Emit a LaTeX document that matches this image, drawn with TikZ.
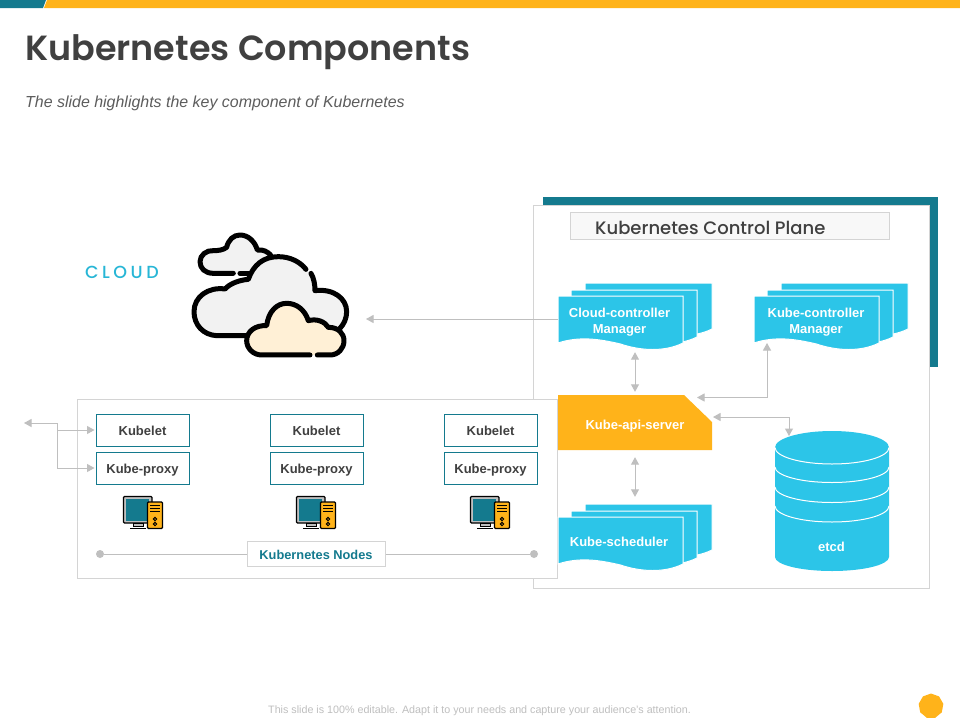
\documentclass[tikz,border=0pt]{standalone}
\usepackage{fontspec}
\setmainfont{Liberation Sans}
\newfontfamily\gothicsb{Poppins SemiBold}
\newfontfamily\gothicm{Poppins Medium}
\usetikzlibrary{arrows.meta,shapes.geometric}
\definecolor{teal1}{HTML}{147A8E}
\definecolor{orange1}{HTML}{FFB31A}
\definecolor{sky1}{HTML}{2CC5E8}
\definecolor{line1}{HTML}{BFBFBF}
\definecolor{frame1}{HTML}{D4D4D4}
\definecolor{ink1}{HTML}{404040}
\definecolor{cloudg}{HTML}{F2F2F2}
\definecolor{cloudy}{HTML}{FFF0D6}
\tikzset{
  x=1pt,y=-1pt,
  conn/.style={draw=line1,line width=1pt},
  biarrow/.style={conn,{Triangle[length=7.5pt,width=8pt]}-{Triangle[length=7.5pt,width=8pt]}},
  onearrow/.style={conn,-{Triangle[length=7.5pt,width=8pt]}},
  compbox/.style={draw=teal1,fill=white,line width=1pt,minimum width=93pt,minimum height=32pt,inner sep=0pt,text=ink1,text height=10pt,text depth=0pt,font=\fontsize{13}{15}\selectfont\bfseries},
  whitelabel/.style={text=white,align=center,inner sep=0pt,font=\fontsize{13}{16}\selectfont\bfseries},
  anchorbox/.style={inner sep=0pt,minimum width=#1},
  docsheet/.style={fill=sky1,draw=white,line width=1pt},
  cloudline/.style={draw=black,line width=5pt,line cap=round,line join=round},
}
% one sheet with a wavy lower edge: #1 left, #2 top, #3 width, #4 height to the edge corners
\newcommand{\docsheet}[4]{%
  \path[docsheet] (#1,#2) -- (#1+#3,#2) -- (#1+#3,#2+#4)
    .. controls (#1+#3-18,#2+#4+9) and (#1+#3-42,#2+#4+8) .. (#1+#3*0.5,#2+#4+1)
    .. controls (#1+#3*0.33,#2+#4-4) and (#1+#3*0.17,#2+#4-7) .. (#1,#2+#4) -- cycle;}
\newcommand{\docstack}[2]{%
  \docsheet{#1+27}{#2}{127}{46}
  \docsheet{#1+13}{#2+7}{126}{47}
  \docsheet{#1}{#2+13}{125}{47}}
\newcommand{\computer}[1]{%
  \begin{scope}[shift={(#1,0)}]
    \draw[black,line width=1.3pt,fill=line1,rounded corners=1pt] (123.5,496.5) rectangle (152,523);
    \fill[teal1] (126,499) rectangle (149,520.5);
    \draw[black,line width=1pt,fill=line1] (133,523) rectangle (143,526);
    \draw[black,line width=1.2pt] (130,528.5) -- (146,528.5);
    \draw[black,line width=1.2pt,fill=orange1,rounded corners=1pt] (147.5,502) rectangle (162.5,528.5);
    \draw[black,line width=.9pt] (150,505.5) -- (160,505.5) (150,508.5) -- (160,508.5);
    \draw[black,line width=1.6pt] (150,511.5) -- (160,511.5);
    \draw[black,line width=1pt] (155,519) circle (1.7) (155,524) circle (1.7);
  \end{scope}}
\begin{document}
\begin{tikzpicture}
\useasboundingbox (0,0) rectangle (960,720);
\fill[white] (0,0) rectangle (960,720);
% top band
\fill[orange1] (47,0) -- (960,0) -- (960,8) -- (44,8) -- cycle;
\fill[teal1] (0,0) -- (46,0) -- (43,8) -- (0,8) -- cycle;
% headings
\node[anchor=base west,inner sep=0pt,text=ink1] (title) at (25,60) {\fontsize{34.95}{38}\gothicsb Kubernetes Components};
\node[anchor=base west,inner sep=0pt,text=ink1!85] (subtitle) at (25,107) {\fontsize{15.95}{18}\selectfont\itshape The slide highlights the key component of Kubernetes};
\node[anchor=base west,inner sep=0pt,text=line1] (footer) at (268,713) {\fontsize{10.72}{12}\selectfont This slide is 100\% editable.  Adapt it to your needs and capture your audience's attention.};
\node[regular polygon,regular polygon sides=9,fill=orange1,minimum size=25pt,inner sep=0pt] (badge) at (931,706) {};
% control plane frame
\fill[teal1] (543,197) rectangle (938,367);
\draw[frame1,fill=white,line width=1pt] (533.5,205.5) rectangle (929.5,588);
\node[draw=frame1,fill=cloudg!50,line width=1pt,minimum width=319pt,minimum height=27pt,inner sep=0pt] (cpbox) at (729.5,225.5) {};
\node[anchor=base west,inner sep=0pt,text=ink1] (cptitle) at (595,234.5) {\fontsize{18}{20}\gothicm Kubernetes Control Plane};
% nodes panel
\draw[frame1,fill=white,line width=1pt] (77,399) rectangle (557.5,578);
% control plane components
\docstack{558}{283}
\docstack{754}{283}
\docstack{558}{504}
\fill[orange1] (558,395) -- (684,395) -- (712,422) -- (712,450) -- (558,450) -- cycle;
% etcd
\fill[sky1] (775,447.5) arc[start angle=180,end angle=360,x radius=57,y radius=16.5] -- (889,557)
  arc[start angle=0,end angle=180,x radius=57,y radius=14] -- cycle;
\draw[white,line width=1pt] (775,447.5) arc[start angle=180,end angle=0,x radius=57,y radius=16.5]
  (775,467) arc[start angle=180,end angle=0,x radius=57,y radius=15.5]
  (775,487) arc[start angle=180,end angle=0,x radius=57,y radius=15.5]
  (775,506) arc[start angle=180,end angle=0,x radius=57,y radius=16];
% named frames of the components and their labels
\node[anchorbox=154pt,minimum height=67pt] (ccm) at (635,316.5) {};
\node[anchorbox=154pt,minimum height=67pt] (kcm) at (831,316.5) {};
\node[anchorbox=154pt,minimum height=67pt] (sched) at (635,537.5) {};
\node[anchorbox=154pt,minimum height=55pt] (api) at (635,422.5) {};
\node[anchorbox=114pt,minimum height=140pt] (etcd) at (832,501) {};
\node[whitelabel] (ccmt) at (619.5,322.5) {Cloud-controller\\Manager};
\node[whitelabel] (kcmt) at (816,322.5) {Kube-controller\\Manager};
\node[whitelabel] (schedt) at (619,542) {Kube-scheduler};
\node[whitelabel] (apit) at (635,426) {Kube-api-server};
\node[whitelabel] (etcdt) at (831.5,547) {etcd};
% worker nodes
\node[compbox] (k1) at (142.5,430) {Kubelet};
\node[compbox] (p1) at (142.5,468) {Kube-proxy};
\node[compbox] (k2) at (316.5,430) {Kubelet};
\node[compbox] (p2) at (316.5,468) {Kube-proxy};
\node[compbox] (k3) at (490.5,430) {Kubelet};
\node[compbox] (p3) at (490.5,468) {Kube-proxy};
\computer{0}
\computer{173}
\computer{347}
\node[circle,fill=line1,minimum size=8pt,inner sep=0pt] (dotl) at (100,554) {};
\node[circle,fill=line1,minimum size=8pt,inner sep=0pt] (dotr) at (534,554) {};
\node[draw=frame1,fill=white,line width=1pt,minimum width=138pt,minimum height=25pt,inner sep=0pt,text=teal1,text height=10pt,text depth=0pt,font=\fontsize{12.8}{15}\selectfont\bfseries] (knodes) at (316,554) {Kubernetes Nodes};
\draw[conn] (dotl) -- (knodes);
\draw[conn] (knodes) -- (dotr);
% cloud label
\node[anchor=base west,inner sep=0pt,text=sky1!80!teal1] (cloudt) at (85,278) {\fontsize{17.5}{20}\gothicm\addfontfeatures{LetterSpace=20}CLOUD};
% cloud picture
\begin{scope}[shift={(180,220)},x=.3333pt,y=-.3333pt]
  \fill[cloudg] (215,160) -- (100,160) .. controls (75,160) and (60,145) .. (60,125) .. controls (60,105) and (80,90) .. (100,92) .. controls (115,92) and (130,90) .. (140,82) .. controls (145,60) and (160,45) .. (180,45) .. controls (205,45) and (225,65) .. (232,90) .. controls (250,88) and (262,95) .. (272,105) -- cycle;
  \draw[cloudline] (160,160) -- (100,160) .. controls (75,160) and (60,145) .. (60,125) .. controls (60,105) and (80,90) .. (100,92) .. controls (115,92) and (130,90) .. (140,82) .. controls (145,60) and (160,45) .. (180,45) .. controls (205,45) and (225,65) .. (232,90) .. controls (250,88) and (262,95) .. (272,105);
  \draw[cloudline] (180,160) -- (215,160);
  \fill[cloudg] (205,178) .. controls (220,135) and (250,110) .. (295,110) .. controls (340,110) and (400,150) .. (405,212) .. controls (460,205) and (500,235) .. (500,275) .. controls (500,295) and (492,312) .. (480,347) -- (110,347) .. controls (70,345) and (42,315) .. (42,275) .. controls (42,230) and (85,200) .. (135,207) .. controls (150,190) and (180,180) .. (205,178) -- cycle;
  \draw[cloudline] (200,347) -- (110,347) .. controls (70,345) and (42,315) .. (42,275) .. controls (42,230) and (85,200) .. (135,207) .. controls (150,190) and (180,180) .. (205,178) .. controls (220,135) and (250,110) .. (295,110) .. controls (330,110) and (360,125) .. (378,148);
  \draw[cloudline] (393,160) .. controls (402,175) and (405,195) .. (405,212) .. controls (460,205) and (500,235) .. (500,275) .. controls (500,295) and (492,312) .. (480,325);
  \fill[cloudy] (450,405) -- (245,405) .. controls (220,405) and (200,385) .. (200,362) .. controls (200,335) and (225,315) .. (260,317) .. controls (265,275) and (290,250) .. (320,250) .. controls (350,250) and (375,270) .. (385,302) .. controls (410,295) and (435,305) .. (445,322) .. controls (475,322) and (492,340) .. (492,362) .. controls (492,385) and (475,405) .. (450,405) -- cycle;
  \draw[cloudline] (390,405) -- (245,405) .. controls (220,405) and (200,385) .. (200,362) .. controls (200,335) and (225,315) .. (260,317) .. controls (265,275) and (290,250) .. (320,250) .. controls (350,250) and (375,270) .. (385,302) .. controls (410,295) and (435,305) .. (445,322) .. controls (475,322) and (492,340) .. (492,362) .. controls (492,385) and (475,405) .. (450,405) -- (412,405);
\end{scope}
% connectors
\coordinate (cloudtip) at (366,319);
\draw[onearrow] (ccm.west |- cloudtip) -- (cloudtip);
\draw[biarrow,shorten <=2pt,shorten >=3pt] (api.north |- ccm.south) -- (api.north);
\draw[biarrow,shorten <=7pt,shorten >=7pt] (api.south) -- (api.south |- sched.north);
\coordinate (apikcm) at (697,397.5);
\coordinate (kcmtip) at (767,343);
\draw[biarrow] (apikcm) -| (kcmtip);
\coordinate (apietcd) at (713,417);
\coordinate (etcdtip) at (789,436);
\draw[biarrow] (apietcd) -| (etcdtip);
\coordinate (lefttip) at (24,423);
\coordinate (leftbus) at (57,423);
\draw[onearrow] (leftbus) -- (lefttip);
\draw[conn] (leftbus) -- (leftbus |- p1.west);
\draw[onearrow,shorten >=1pt] (leftbus |- k1.west) -- (k1.west);
\draw[onearrow,shorten >=1pt] (leftbus |- p1.west) -- (p1.west);
\end{tikzpicture}
\end{document}
